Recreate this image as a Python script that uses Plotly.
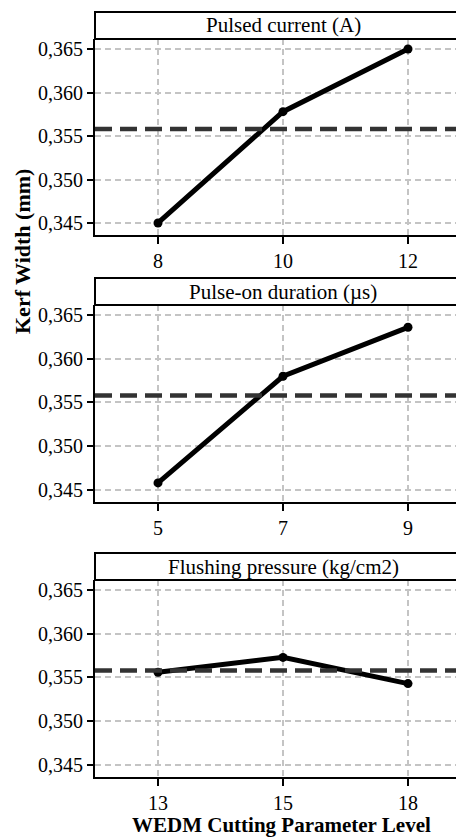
import plotly.graph_objects as go

# ---- data ----
panel_titles = ["Pulsed current (A)", "Pulse-on duration (µs)", "Flushing pressure (kg/cm2)"]
level_labels = [["8", "10", "12"], ["5", "7", "9"], ["13", "15", "18"]]
pulsed_current = [0.3450, 0.3578, 0.3650]
pulse_on = [0.3458, 0.3580, 0.3636]
flushing = [0.3556, 0.3573, 0.3543]
grand_mean = 0.3558
y_ticks = [0.345, 0.350, 0.355, 0.360, 0.365]
series = [pulsed_current, pulse_on, flushing]

OFF = 8  # default page body margin
SW, SH = 464, 838                      # screen size
L_S, T_S, B_S = 95, 39, 777            # plot area in screen pixels
W, H = SW - OFF, SH - OFF
ML, MR, MT, MB = L_S - OFF, 0, T_S - OFF, SH - B_S
PW, PH = W - ML - MR, H - MT - MB

def py(p):  # screen pixel y -> paper y
    return 1 - (p - T_S) / PH

def px(p):  # screen pixel x -> paper x
    return (p - L_S) / PW

# panel pixel extents (plot top, plot bottom, strip top) in screen pixels
panels = [(39, 235, 12), (305, 502, 278), (580, 777, 553)]

FONT = "Liberation Serif"
fig = go.Figure()

for i, (vals, labels) in enumerate(zip(series, level_labels)):
    n = "" if i == 0 else str(i + 1)
    xs = list(range(len(vals)))
    fig.add_trace(go.Scatter(
        x=xs, y=vals, mode="lines+markers",
        line=dict(color="black", width=5),
        marker=dict(color="black", size=9),
        xaxis="x" + n, yaxis="y" + n, showlegend=False, cliponaxis=False,
    ))
    top, bot, stop = panels[i]
    fig.update_layout(**{
        "xaxis" + n: dict(
            domain=[0, 1], anchor="y" + n, range=[-0.504, 2.448],
            tickmode="array", tickvals=xs, ticktext=labels,
            ticks="outside", ticklen=7, tickwidth=2, tickcolor="black",
            showline=True, linecolor="black", linewidth=2,
            showgrid=True, gridcolor="#c4c4c4", gridwidth=1.5, griddash="6px,4px",
            zeroline=False, tickfont=dict(family=FONT, size=20, color="black"),
        ),
        "yaxis" + n: dict(
            domain=[py(bot), py(top)], anchor="x" + n, range=[0.34362, 0.36615],
            tickmode="array", tickvals=y_ticks, tickformat=".3f",
            ticks="outside", ticklen=6, tickwidth=2, tickcolor="black",
            showline=True, linecolor="black", linewidth=2,
            showgrid=True, gridcolor="#c4c4c4", gridwidth=1.5, griddash="6px,4px",
            zeroline=False, tickfont=dict(family=FONT, size=20, color="black"),
        ),
    })
    # grand mean dashed line
    fig.add_shape(type="line", xref="x" + n + " domain", yref="y" + n,
                  x0=0, x1=1, y0=grand_mean, y1=grand_mean,
                  line=dict(color="#333333", width=4.5, dash="17px,8px"), layer="above")
    # strip box
    fig.add_shape(type="rect", xref="paper", yref="paper",
                  x0=0, x1=1.2, y0=py(top), y1=py(stop),
                  line=dict(color="black", width=2), fillcolor="white", layer="above")
    fig.add_annotation(text=panel_titles[i], xref="paper", yref="paper",
                       x=px(283), y=py((top + stop) / 2), showarrow=False,
                       xanchor="center", yanchor="middle",
                       font=dict(family=FONT, size=21, color="black"))

fig.add_annotation(text="<b>Kerf Width (mm)</b>", xref="paper", yref="paper",
                   x=px(23), y=py(252), textangle=-90, showarrow=False,
                   xanchor="center", yanchor="middle",
                   font=dict(family=FONT, size=22, color="black"))
fig.add_annotation(text="<b>WEDM Cutting Parameter Level</b>", xref="paper", yref="paper",
                   x=px(281), y=py(825), showarrow=False,
                   xanchor="center", yanchor="middle",
                   font=dict(family=FONT, size=21, color="black"))

fig.update_layout(
    width=W, height=H, margin=dict(l=ML, r=MR, t=MT, b=MB),
    paper_bgcolor="white", plot_bgcolor="white",
    separators=",.", showlegend=False,
)
fig.write_html("out.html")
